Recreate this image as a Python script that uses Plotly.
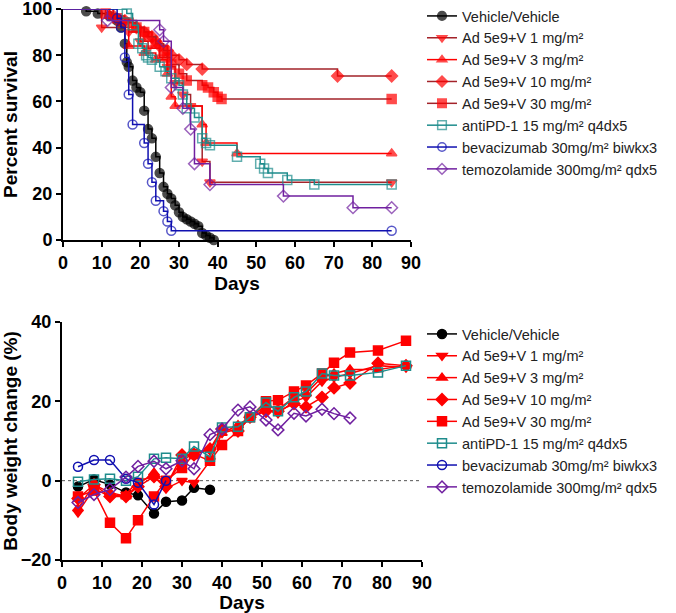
import plotly.graph_objects as go

# ---- survival data (Kaplan-Meier steps: day, percent) ----
veh_day = [0, 6, 9, 12, 14, 15, 16, 16.5, 17, 18, 19, 20, 21, 22, 23, 24, 25, 26, 27, 28,
           29, 30, 31, 32, 33, 34, 35, 36, 37, 38, 39]
veh_surv = [100, 99, 98, 97, 95, 92, 85, 77, 75, 69, 66, 64, 56, 48, 44, 36, 29, 23, 20, 18,
            15, 12, 10, 9, 8, 7, 6, 3, 2, 1, 0]

ad1_day = [0, 10, 17, 20, 22, 25, 27, 29, 31, 33, 36, 38, 85]
ad1_surv = [100, 92, 90, 86, 83, 79, 75, 68, 63, 58, 34, 25, 25]

ad3_day = [0, 12, 15, 17, 21, 24, 27, 28, 29, 36, 37, 45, 85]
ad3_surv = [100, 97, 94, 84, 81, 78, 72, 62, 58, 50, 42, 37.5, 37.5]

ad10_day = [0, 13, 16, 19, 21, 23, 24, 25, 27, 28, 30, 32, 36, 71, 85]
ad10_surv = [100, 97, 95, 92, 90, 88, 86, 84, 82, 80, 78, 76, 74, 71, 71]

ad30_day = [0, 11, 14, 17, 19, 21, 22, 24, 26, 27, 28, 30, 32, 36, 37.5, 39, 40, 41, 85]
ad30_surv = [100, 98, 96, 94, 92, 90, 88, 85, 82, 79, 76, 72, 69, 67, 66, 64, 62, 61, 61]

pd1_day = [0, 16.5, 18, 19.5, 20.5, 21.5, 22, 23, 25, 26.5, 28, 30, 31, 32, 34, 36, 37, 38,
           45, 51, 52, 53, 58, 65, 85]
pd1_surv = [100, 98, 93, 85, 83, 80, 79, 78, 75, 73, 70, 67, 63, 57, 53, 44, 42, 41,
            36, 33, 31, 29, 26, 24, 24]

bev_day = [0, 14, 15, 16, 17, 18, 21, 22, 23, 24, 26, 27, 28, 85]
bev_surv = [100, 96, 92, 79, 63, 50, 42, 33, 25, 17, 12.5, 8, 4, 4]

tem_day = [0, 11.5, 25, 26, 28, 31, 33, 34, 38, 57, 75, 85]
tem_surv = [100, 95, 91, 86, 66, 57, 48, 33, 24, 19, 14, 14]

# ---- body weight data ----
bw_day = [4, 8, 12, 16, 19, 23, 26, 30, 33, 37, 40, 44, 47, 51, 54, 58, 61, 65, 68, 72, 79, 86]
veh_bw = [-1.5, 0.3, -1, -3, -3.7, -8.3, -5.3, -5, -1.8, -2.3]
ad1_bw = [-8, -2, -4, -3.5, 0, 1, -2, 0, -0.5, 5, 12, 13, 16, 18, 17, 20, 21, 25, 26, 27, 29, 28.5]
ad3_bw = [-7, -1, -3, -4, -1, 2, -1, 5, 7, 8, 12, 14, 16, 19, 18, 21, 22, 26, 27, 28, 28, 29]
ad10_bw = [-4.5, -1, -4, -4, -1.5, 1, -1.5, 6.5, 6.5, 8, 13, 12.5, 16, 17.5, 17.5, 19.4, 18.6,
           21, 23.4, 24.6, 29.6, 29]
ad30_bw = [-4, -2.5, -10.6, -14.5, -10, -4, 0, 3.2, 6.7, 5, 9, 12.5, 16, 20, 20.3, 22.5, 24,
           27, 29.7, 32.3, 32.8, 35.3]
pd1_bw = [-0.3, 0.3, 0.5, 0, 1, 5.5, 5.8, 5.5, 8.6, 6, 13.4, 13.6, 16, 19.7, 17.5, 21, 22.5,
          27, 26.5, 26.5, 27.3, 29]
bev_bw = [3.5, 5.2, 5.2, 0.5, -0.5, -6, 0]
tem_bw = [-5.5, -3.5, -2.2, 0.9, 3.6, 4.9, 3, 5, 3, 11.6, 13, 17.8, 18.6, 15.3, 12.8, 17, 16.3,
          18, 16.9, 15.8]

names = ["Vehicle/Vehicle",
         "Ad 5e9+V 1 mg/m²",
         "Ad 5e9+V 3 mg/m²",
         "Ad 5e9+V 10 mg/m²",
         "Ad 5e9+V 30 mg/m²",
         "antiPD-1 15 mg/m² q4dx5",
         "bevacizumab 30mg/m² biwkx3",
         "temozolamide 300mg/m² qdx5"]

RED = "#FF0000"
DARKRED = "#A3232A"
TEAL = "#1E8C8C"
BLUE = "#1010B0"
PURPLE = "#7020A0"

# marker symbol, marker color, top line color, bottom line color
styles = [
    ("circle", "black", "black", "black"),
    ("triangle-down", RED, DARKRED, RED),
    ("triangle-up", RED, RED, RED),
    ("diamond", RED, DARKRED, RED),
    ("square", RED, DARKRED, RED),
    ("square-open", TEAL, TEAL, TEAL),
    ("circle-open", BLUE, BLUE, BLUE),
    ("diamond-open", PURPLE, PURPLE, PURPLE),
]

surv = [(veh_day, veh_surv), (ad1_day, ad1_surv), (ad3_day, ad3_surv), (ad10_day, ad10_surv),
        (ad30_day, ad30_surv), (pd1_day, pd1_surv), (bev_day, bev_surv), (tem_day, tem_surv)]
bw = [veh_bw, ad1_bw, ad3_bw, ad10_bw, ad30_bw, pd1_bw, bev_bw, tem_bw]

fig = go.Figure()

for name, (sym, mcol, lcol_top, lcol_bot), (d, s) in zip(names, styles, surv):
    # no marker at the starting point (day 0)
    sizes = [0] + [9] * (len(d) - 1)
    fig.add_trace(go.Scatter(
        x=d, y=s, name=name, mode="lines+markers", line_shape="hv",
        line=dict(color=lcol_top, width=1.5),
        marker=dict(symbol=sym, color=mcol, size=sizes, line=dict(color=mcol, width=1.5)),
        xaxis="x", yaxis="y", legend="legend", cliponaxis=False,
    ))

for name, (sym, mcol, lcol_top, lcol_bot), vals in zip(names, styles, bw):
    fig.add_trace(go.Scatter(
        x=bw_day[:len(vals)], y=vals, name=name, mode="lines+markers",
        line=dict(color=lcol_bot, width=1.5),
        marker=dict(symbol=sym, color=mcol, size=9, line=dict(color=mcol, width=1.5)),
        xaxis="x2", yaxis="y2", legend="legend2", cliponaxis=False,
    ))

W, H = 676, 613


def px_x(p):
    return p / W


def px_y(p):
    return 1 - p / H


tick_font = dict(family="Liberation Sans", size=18, color="black", weight="bold")
title_font = dict(family="Liberation Sans", size=19, color="black", weight="bold")
axis_common = dict(showline=True, linecolor="black", linewidth=2, ticks="outside",
                   tickwidth=2, ticklen=5, tickcolor="black", showgrid=False,
                   zeroline=False, tickfont=tick_font, automargin=False,
                   ticklabeloverflow="allow")

legend_common = dict(font=dict(family="Liberation Sans", size=14.5, color="#222"),
                     bgcolor="rgba(0,0,0,0)", tracegroupgap=0, itemwidth=30,
                     xanchor="left", yanchor="top")

fig.update_layout(
    width=W, height=H,
    margin=dict(l=0, r=0, t=0, b=0),
    plot_bgcolor="white", paper_bgcolor="white",
    showlegend=True,
    xaxis=dict(domain=[px_x(63), px_x(411)], range=[0, 90], dtick=10, anchor="y",
               title=dict(text="Days", font=title_font, standoff=4), **axis_common),
    yaxis=dict(domain=[px_y(240), px_y(9)], range=[0, 100], dtick=20, anchor="x",
               title=dict(text="Percent survival", font=title_font, standoff=10), **axis_common),
    xaxis2=dict(domain=[px_x(62), px_x(422)], range=[0, 90], dtick=10, anchor="y2",
                title=dict(text="Days", font=title_font, standoff=6), **axis_common),
    yaxis2=dict(domain=[px_y(560), px_y(322)], range=[-20, 40], dtick=20, anchor="x2",
                title=dict(text="Body weight change (%)", font=title_font, standoff=10),
                **axis_common),
    legend=dict(x=px_x(422), y=1, **legend_common),
    legend2=dict(x=px_x(422), y=px_y(318), **legend_common),
)

# dotted zero line in the body weight panel
fig.add_shape(type="line", xref="x2", yref="y2", x0=0, x1=90, y0=0, y1=0,
              line=dict(color="#555", width=1, dash="dot"), layer="below")

# drop the default page margin so the figure fills the window
fig.write_html("out.html", config={"displayModeBar": False},
               post_script="document.body.style.margin='0px';")
